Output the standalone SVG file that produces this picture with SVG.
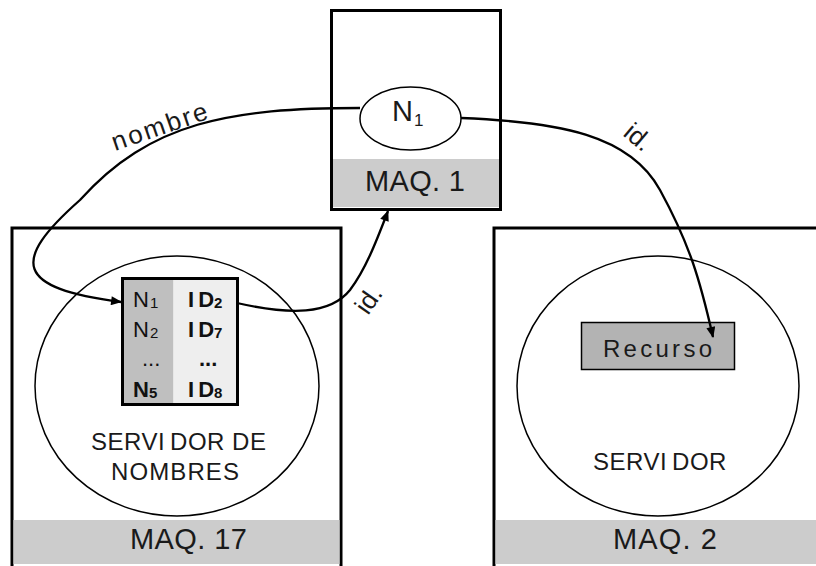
<svg xmlns="http://www.w3.org/2000/svg" width="816" height="566" viewBox="0 0 816 566">
<style>
.box{fill:#fff;stroke:#000;stroke-width:3}
.band{fill:#cccccc}
.ell{fill:#fff;stroke:#000;stroke-width:1.5}
.t{font-family:"Liberation Sans",Arial,sans-serif;fill:#1a1a1a}
.maq{font-size:29px}
.big{font-size:24px}
.tab{font-size:22px;fill:#111}
.b{font-weight:bold}
.con{fill:none;stroke:#000;stroke-width:2.3}
</style>
<defs>
<marker id="arr" viewBox="0 0 12 10" refX="11" refY="5" markerWidth="12" markerHeight="9" markerUnits="userSpaceOnUse" orient="auto">
<path d="M0,0 L12,5 L0,10 z" fill="#000"/>
</marker>
</defs>
<rect width="816" height="566" fill="#fff"/>

<g id="maq17">
<rect class="box" x="12" y="228" width="329" height="342"/>
<rect class="band" x="13.5" y="520" width="326" height="44"/>
<text class="t maq" x="130" y="549" textLength="117" lengthAdjust="spacing">MAQ. 17</text>
</g>

<g id="maq2">
<rect class="box" x="494" y="228" width="330" height="342"/>
<rect class="band" x="495.5" y="520" width="322" height="44"/>
<text class="t maq" x="613" y="549" textLength="104" lengthAdjust="spacing">MAQ. 2</text>
</g>

<g id="servidor-nombres">
<ellipse class="ell" cx="177" cy="386" rx="142" ry="130"/>
<text class="t big" x="91" y="449.5" letter-spacing="0.5">SERVI<tspan dx="5">DOR DE</tspan></text>
<text class="t big" x="111" y="479.5" letter-spacing="1.1">NOMBRES</text>
</g>

<g id="tabla">
<rect x="122.5" y="278.5" width="51" height="126" fill="#bfbfbf"/>
<rect x="173.5" y="278.5" width="64" height="126" fill="#eeeeee"/>
<rect x="122.5" y="278.5" width="115" height="126" fill="none" stroke="#000" stroke-width="3"/>
<text class="t tab" x="133" y="307">N<tspan font-size="15" dx="1" dy="1">1</tspan></text>
<text class="t tab" x="133" y="337">N<tspan font-size="15" dx="1" dy="1">2</tspan></text>
<text class="t tab" x="142" y="366" fill="#444">...</text>
<text class="t tab b" x="133" y="397">N<tspan font-size="15" dy="1">5</tspan></text>
<text class="t tab b" x="188" y="307">I<tspan dx="4">D</tspan><tspan font-size="15" dy="1">2</tspan></text>
<text class="t tab b" x="188" y="337">I<tspan dx="4">D</tspan><tspan font-size="15" dy="1">7</tspan></text>
<text class="t tab b" x="199" y="366">...</text>
<text class="t tab b" x="188" y="397">I<tspan dx="4">D</tspan><tspan font-size="15" dy="1">8</tspan></text>
</g>

<g id="servidor">
<ellipse class="ell" cx="658" cy="386" rx="141" ry="130"/>
<text class="t big" x="593" y="470" letter-spacing="0.5">SERVI<tspan dx="5">DOR</tspan></text>
</g>

<g id="recurso">
<rect x="581.5" y="322.5" width="153" height="47" fill="#b3b3b3" stroke="#000" stroke-width="1.5"/>
<text class="t" x="603" y="357" font-size="24" textLength="109" lengthAdjust="spacing">Recurso</text>
</g>

<g id="maq1">
<rect class="box" x="331.5" y="10.5" width="169" height="199"/>
<rect class="band" x="333" y="159" width="166" height="48"/>
<text class="t maq" x="365" y="190.5" textLength="100" lengthAdjust="spacing">MAQ. 1</text>
</g>

<g id="connectors">
<path class="con" d="M360,108 C230,108 150,122 80,200 C10,262 15,288 121,302" marker-end="url(#arr)"/>
<path class="con" d="M237,303 C290,315 330,315 350,290 C365,270 375,245 388,211" marker-end="url(#arr)"/>
<path class="con" d="M461,118 C560,122 630,135 660,190 C690,245 700,280 713,337" marker-end="url(#arr)"/>
<text class="t" font-size="26" transform="translate(115,151) rotate(-19)" textLength="100" lengthAdjust="spacing">nombre</text>
<text class="t" font-size="26" transform="translate(368,316) rotate(-55)">id.</text>
<text class="t" font-size="26" transform="translate(622,135) rotate(40)">id.</text>
</g>

<g id="n1">
<ellipse class="ell" cx="410.5" cy="118.5" rx="50.5" ry="31.5"/>
<text class="t" x="392" y="121" font-size="29" fill="#000">N<tspan font-size="17" dx="1" dy="5">1</tspan></text>
</g>
</svg>
